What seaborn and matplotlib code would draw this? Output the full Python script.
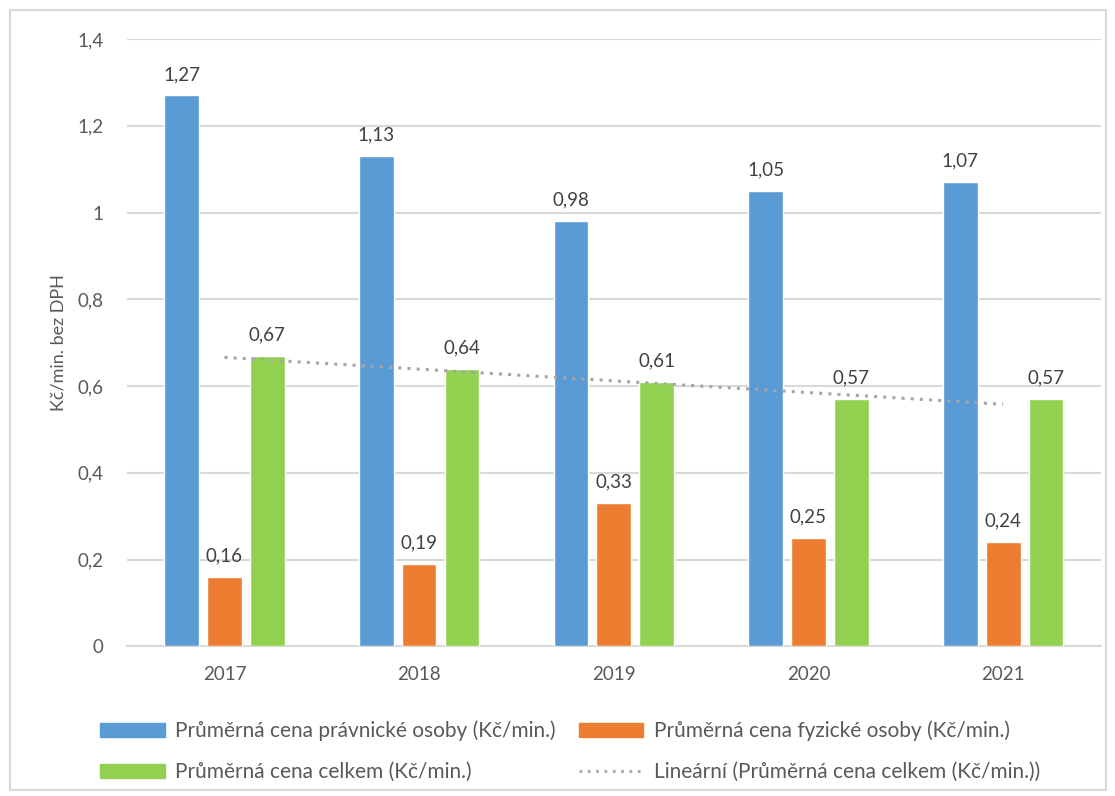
import pandas as pd
import seaborn as sns
import matplotlib.pyplot as plt
from matplotlib.ticker import FuncFormatter
from matplotlib.patches import Rectangle, Patch
from matplotlib.lines import Line2D

years = ["2017", "2018", "2019", "2020", "2021"]
pravnicke = [1.27, 1.13, 0.98, 1.05, 1.07]
fyzicke = [0.16, 0.19, 0.33, 0.25, 0.24]
celkem = [0.67, 0.64, 0.61, 0.57, 0.57]

series = [
    "Průměrná cena právnické osoby (Kč/min.)",
    "Průměrná cena fyzické osoby (Kč/min.)",
    "Průměrná cena celkem (Kč/min.)",
]
trend_label = "Lineární (Průměrná cena celkem (Kč/min.))"
colors = ["#5b9bd5", "#ed7d31", "#92d050"]

df = pd.DataFrame({
    "Rok": years * 3,
    "Cena": pravnicke + fyzicke + celkem,
    "Řada": [series[0]] * 5 + [series[1]] * 5 + [series[2]] * 5,
})

sns.set_theme(style="white")
plt.rcParams["font.family"] = ["Lato", "DejaVu Sans"]
text_color = "#595959"
grid_color = "#d9d9d9"

fig = plt.figure(figsize=(11.15, 7.96), dpi=100)
ax = fig.add_axes([0.114, 0.188, 0.873, 0.763])

sns.barplot(data=df, x="Rok", y="Cena", hue="Řada", palette=colors, saturation=1,
            width=0.66, gap=0.19, ax=ax, legend=False, zorder=3)

for cont in ax.containers:
    labels = [f"{b.get_height():.2f}".replace(".", ",") for b in cont]
    ax.bar_label(cont, labels=labels, padding=9, fontsize=13.5, color="#404040")

# linear trend of total price
trend = pd.DataFrame({"x": range(len(years)), "y": celkem})
sns.regplot(data=trend, x="x", y="y", scatter=False, ci=None, truncate=True,
            line_kws=dict(color="#a6a6a6", linestyle=(0, (1, 2)), lw=2.2, zorder=4),
            ax=ax)

ax.set_xlim(-0.5, 4.5)
ax.set_ylim(0, 1.4)
ax.set_yticks([0, 0.2, 0.4, 0.6, 0.8, 1.0, 1.2, 1.4])
ax.yaxis.set_major_formatter(FuncFormatter(lambda v, p: f"{v:g}".replace(".", ",")))
ax.yaxis.grid(True, color=grid_color, lw=1.5, zorder=0)
ax.set_axisbelow(True)
for s in ["top", "right", "left"]:
    ax.spines[s].set_visible(False)
ax.spines["bottom"].set_color(grid_color)
ax.spines["bottom"].set_linewidth(1.5)
ax.tick_params(axis="both", length=0, labelsize=13.5, labelcolor=text_color, pad=14)
ax.tick_params(axis="y", pad=17)
ax.set_xlabel("")
ax.set_ylabel("Kč/min. bez DPH", fontsize=13, color=text_color, labelpad=8)

# column-wise filling: blue, green | orange, trend
handles = [
    Patch(color=colors[0], label=series[0]),
    Patch(color=colors[2], label=series[2]),
    Patch(color=colors[1], label=series[1]),
    Line2D([], [], color="#a6a6a6", linestyle=(0, (1, 2)), lw=2, label=trend_label),
]
leg = fig.legend(handles=handles, ncol=2, loc="lower left",
                 bbox_to_anchor=(0.073, -0.006), frameon=False, fontsize=15,
                 handlelength=3.1, handleheight=0.65, handletextpad=0.5,
                 columnspacing=1.1, labelspacing=1.0, labelcolor=text_color)

fig.patches.append(Rectangle((0.009, 0.008), 0.983, 0.979, transform=fig.transFigure,
                             fill=False, edgecolor="#d9d9d9", lw=1.5))

plt.savefig("out.png", dpi=100)
